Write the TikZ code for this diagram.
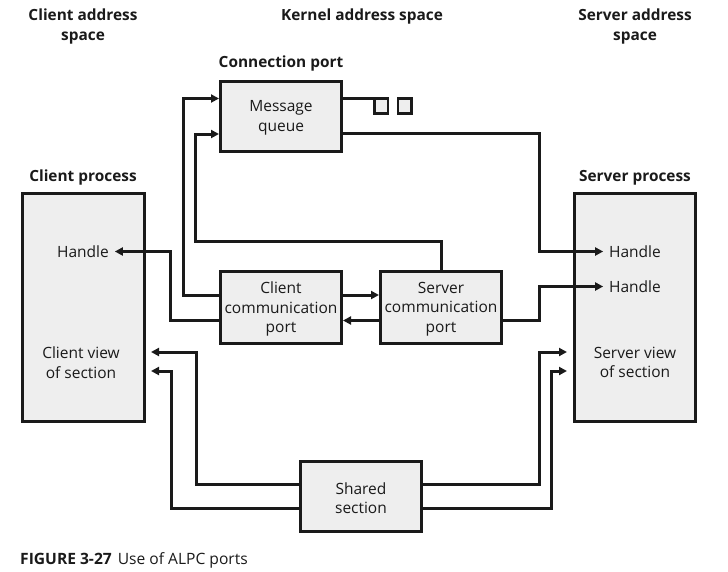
\documentclass[tikz,border=0pt]{standalone}
\usepackage{fontspec}
\setmainfont{Open Sans}
\usetikzlibrary{arrows.meta,calc}
\definecolor{boxfill}{HTML}{EEEEEE}
\definecolor{ink}{HTML}{1A1A1A}
\begin{document}
\begin{tikzpicture}[x=1pt,y=-1pt,
  box/.style={draw=ink, line width=3pt, fill=boxfill, minimum width=121pt, inner sep=0pt},
  boxtext/.style={label={[font=\fontsize{15.5}{19.5}\selectfont, align=center, inner sep=0pt, text=ink, yshift=-1.5pt]center:{#1}}},
  hdr/.style={font=\bfseries\fontsize{15.4}{19.5}\selectfont, align=center, inner sep=0pt, text=ink},
  lbl/.style={font=\fontsize{15.5}{19.5}\selectfont, align=center, inner sep=0pt, outer xsep=6pt, text=ink},
  conn/.style={draw=ink, line width=3pt},
  arr/.style={conn, -{Triangle[length=8pt,width=8pt]}},
  sq/.style={draw=ink, line width=2.5pt, fill=boxfill, minimum width=13.5pt, minimum height=15pt, inner sep=0pt}
]
\useasboundingbox (0,0) rectangle (728,571);
% boxes
\node[box, minimum height=70pt, boxtext={Message\\queue}] (mq) at (281,116.5) {};
\node[box, minimum height=72pt, boxtext={Client\\communication\\port}] (ccp) at (281,307.5) {};
\node[box, minimum height=72pt, boxtext={Server\\communication\\port}] (scp) at (441,307.5) {};
\node[box, minimum height=70pt, boxtext={Shared\\section}] (ss) at (361,496.5) {};
\node[box, minimum width=122pt, minimum height=228pt] (cp) at (83.5,307.5) {};
\node[box, minimum height=228pt] (sp) at (635,307.5) {};
\node[sq] (sq1) at (381,106) {};
\node[sq] (sq2) at (404.5,106) {};
% headers
\node[hdr] (hca) at (83,26.5) {Client address\\space};
\node[hdr] (hka) at (362,16.5) {Kernel address space};
\node[hdr] (hsa) at (635,26.5) {Server address\\space};
\node[hdr] (hcon) at (281,63.5) {Connection port};
\node[hdr] (hcpr) at (83,177.5) {Client process};
\node[hdr] (hspr) at (635,177.5) {Server process};
% labels in process boxes
\node[lbl] (ch) at (83,251.5) {Handle};
\node[lbl] (cv) at (81,362.5) {Client view\\of section};
\node[lbl] (sh1) at (635,251.5) {Handle};
\node[lbl] (sh2) at (635,286.5) {Handle};
\node[lbl] (sv) at (635,362.5) {Server view\\of section};
% caption
\node[anchor=base west, inner sep=0pt, text=ink, font=\fontsize{15.6}{18}\selectfont] (cap) at (20,564) {\textbf{FIGURE 3-27}\hspace{6pt}Use of ALPC ports};
% routing coordinates
\coordinate (colA) at (183,0);
\coordinate (colB) at (195.5,0);
\coordinate (rowB) at (0,241.5);
\coordinate (colC) at (170.5,0);
\coordinate (colD) at (196,0);
\coordinate (colE) at (171,0);
\coordinate (colR) at (539.5,0);
\coordinate (colG) at (551.5,0);
\coordinate (mqL1) at ($(mq.west)+(0,-18)$);
\coordinate (mqL2) at ($(mq.west)+(0,17.5)$);
\coordinate (mqR1) at ($(mq.east)+(0,-18)$);
\coordinate (mqR2) at ($(mq.east)+(0,17)$);
\coordinate (ccpL1) at ($(ccp.west)+(0,-12.5)$);
\coordinate (ccpL2) at ($(ccp.west)+(0,13)$);
\coordinate (ccpR1) at ($(ccp.east)+(0,-12.5)$);
\coordinate (ccpR2) at ($(ccp.east)+(0,13)$);
\coordinate (scpL1) at ($(scp.west)+(0,-12.5)$);
\coordinate (scpL2) at ($(scp.west)+(0,13)$);
\coordinate (scpR) at ($(scp.east)+(0,12.5)$);
\coordinate (ssL1) at ($(ss.west)+(0,-12)$);
\coordinate (ssL2) at ($(ss.west)+(0,12)$);
\coordinate (ssR1) at ($(ss.east)+(0,-12)$);
\coordinate (ssR2) at ($(ss.east)+(0,12)$);
\coordinate (cvA) at ($(cp.east)+(5,44.5)$);
\coordinate (cvB) at ($(cp.east)+(5,63.5)$);
\coordinate (svA) at ($(sp.west)+(-6,44.5)$);
\coordinate (svB) at ($(sp.west)+(-6,63.5)$);
% connectors
\draw[conn] (mqR1) -- (mqR1 -| sq1.west);
\draw[arr] (mqR2) -| (colR |- sh1.west) -- (sh1.west);
\draw[arr] (scpR) -| (colR |- sh2.west) -- (sh2.west);
\draw[arr] (ccpR1) -- (scpL1);
\draw[arr] (scpL2) -- (ccpR2);
\draw[arr] (ccpL1) -| (colA |- mqL1) -- (mqL1);
\draw[arr] (scp.north) |- (colB |- rowB) |- (mqL2);
\draw[arr] (ccpL2) -| (colC |- ch.east) -- (ch.east);
\draw[arr] (ssL1) -| (colD |- cvA) -- (cvA);
\draw[arr] (ssL2) -| (colE |- cvB) -- (cvB);
\draw[arr] (ssR1) -| (colR |- svA) -- (svA);
\draw[arr] (ssR2) -| (colG |- svB) -- (svB);
\end{tikzpicture}
\end{document}
